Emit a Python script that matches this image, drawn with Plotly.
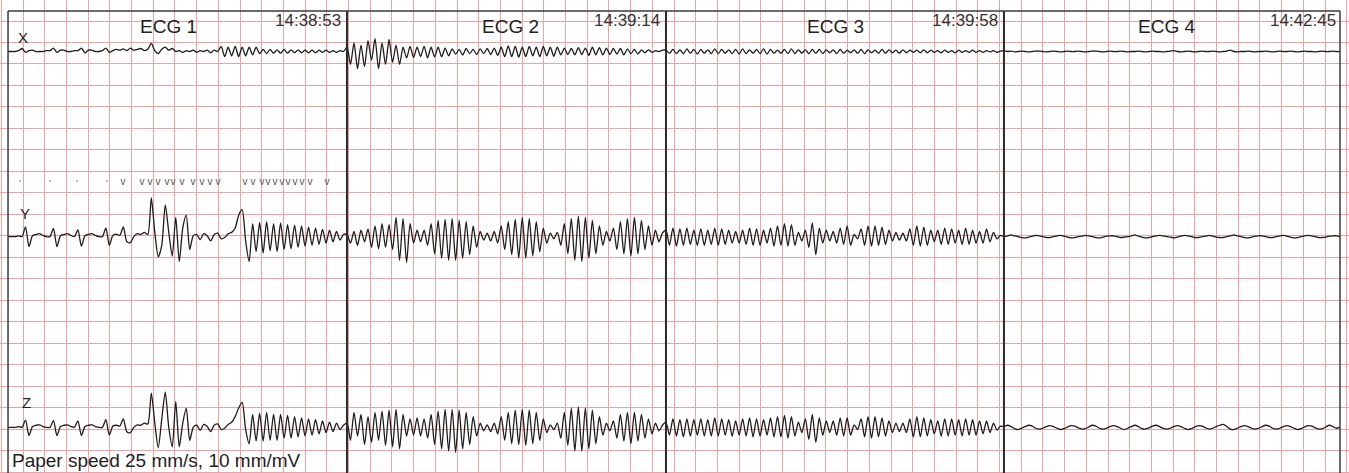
import numpy as np
import plotly.graph_objects as go

# ---------------- data (values in mV) ----------------
segment_names = ["ECG 1", "ECG 2", "ECG 3", "ECG 4"]
segment_times = ["14:38:53", "14:39:14", "14:39:58", "14:42:45"]
segment_bounds_s = [0.062, 3.186, 6.126, 9.241, 12.338]   # strip time (s)
lead_names = ["X", "Y", "Z"]

x_ecg1 = [0, 0, 0, 0.02, 0.07, -0.02, 0.02, 0.03, 0, 0, 0, 0.02, 0.02, 0.08, -0.02, 0.03, 0.03, 0, 0, 0.02,
          0.02, 0.08, -0.03, 0.03, 0.03, 0, 0, 0.02, 0.08, -0.02, 0.02, 0.05, 0.03, 0.06, 0.02, 0.08, 0.03, 0.05, 0.07, 0.02,
          0.05, 0.19, 0.02, -0.05, 0.05, 0.1, 0.03, 0.07, 0.0, 0.02, -0.02, 0.02, 0.0, 0.03, -0.02, 0.02, 0.0, 0.03, -0.03, 0.03,
          0.0, 0.12, -0.12, 0.1, -0.1, 0.12, -0.12, 0.1, -0.1, 0.1, -0.08, 0.1, -0.05, 0.05, -0.05, 0.05, -0.04, 0.04, -0.04, 0.05,
          -0.04, 0.04, -0.03, 0.04, -0.03, 0.03, -0.03, 0.03, -0.03, 0.03, -0.02, 0.03, -0.02, 0.02, -0.02, 0.02, 0.0]
x_ecg2 = [0.1, -0.3, 0.2, -0.4, 0.15, -0.35, 0.25, -0.2, 0.3, -0.4, 0.2, -0.3, 0.28, -0.25, 0.15, -0.3,
          0.1, -0.15, 0.12, -0.14, 0.1, -0.12, 0.12, -0.15, 0.1, -0.13, 0.1, -0.12, 0.08, -0.1,
          0.06, -0.06, 0.05, -0.08, 0.07, -0.05, 0.05, -0.07, 0.06, -0.05, 0.07, -0.07, 0.08, -0.09,
          0.1, -0.12, 0.13, -0.12, 0.12, -0.13, 0.1, -0.12, 0.12, -0.1, 0.1, -0.12, 0.12, -0.1, 0.1, -0.11, 0.1, -0.08, 0.08, -0.07,
          0.07, -0.08, 0.09, -0.07, 0.08, -0.09, 0.1, -0.08, 0.09, -0.08, 0.08, -0.07, 0.07, -0.06, 0.07, -0.08, 0.06, -0.05, 0.05,
          -0.06, 0.04, -0.03, 0.04, -0.02, 0.02, 0.0, 0.03]
x_ecg3 = [0.03, -0.04, 0.05, -0.05, 0.04, -0.05, 0.06, -0.04, 0.05, -0.06, 0.05, -0.04, 0.04, -0.05, 0.06, -0.05, 0.05, -0.04, 0.04, -0.05,
          0.05, -0.06, 0.06, -0.05, 0.04, -0.04, 0.05, -0.05, 0.06, -0.06, 0.05, -0.04, 0.03, -0.04, 0.05, -0.05, 0.06, -0.05, 0.04, -0.04,
          0.04, -0.05, 0.05, -0.04, 0.05, -0.05, 0.04, -0.03, 0.04, -0.05, 0.05, -0.04, 0.03, -0.03, 0.04, -0.04, 0.05, -0.05, 0.04, -0.03,
          0.03, -0.04, 0.05, -0.04, 0.04, -0.03, 0.03, -0.04, 0.04, -0.03, 0.03, -0.02, 0.03, -0.03, 0.04, -0.03, 0.03, -0.02, 0.02, -0.03,
          0.03, -0.02, 0.02, -0.03, 0.03, -0.02, 0.02, -0.02, 0.03, -0.02, 0.02, -0.02, 0.02, -0.01, 0.02, -0.02, 0.01]
x_ecg4 = [0.02, 0.0, 0.01, -0.01, 0.0, 0.01, 0.0, -0.01, 0.0, 0.01, 0.01, 0.0, -0.01, 0.0, 0.01, 0.0, -0.01, 0.0, 0.01, 0.0,
          0.0, 0.01, 0.0, -0.01, 0.0, 0.01, 0.01, 0.0, -0.01, 0.0, 0.01, 0.0, 0.0, 0.01, 0.0, -0.01, 0.0, 0.0, 0.01, 0.0,
          -0.01, 0.0, 0.01, 0.0, 0.0, -0.01, 0.0, 0.01, 0.02, 0.0, -0.01, 0.0, 0.01, 0.0, -0.01, 0.0, 0.01, 0.0, 0.0, 0.01,
          0.0, -0.01, 0.0, 0.01, 0.03, 0.0, -0.01, 0.0, 0.0, 0.01, 0.0, -0.01, 0.0, 0.0, 0.01, 0.0, -0.01, 0.0, 0.01, 0.0,
          0.0, 0.01, 0.0, -0.01, 0.0, 0.01, 0.0, 0.0, -0.01, 0.0, 0.01, 0.0, 0.0, 0.01, 0.0, 0.0]

y_ecg1 = [0, 0, 0, 0.02, 0.0, 0.23, -0.23, 0.02, 0.05, 0.07, 0.03, 0.0, 0.0, 0.19, -0.23, 0.02, 0.05, 0.07, 0.03, 0,
          0.16, -0.22, 0.02, 0.05, 0.07, 0.03, 0.0, 0.0, 0.2, -0.2, 0.03, 0.06, 0.03, 0.23, -0.12, -0.14, 0.0, 0.07, 0.05, 0.1,
          0.05, 0.9, 0.1, -0.47, -0.2, 0.74, 0.1, -0.45, 0.45, -0.58, 0.2, 0.5, -0.3, 0.02, 0.05, -0.07, 0.07, 0.02, -0.1, 0.05,
          0.08, -0.05, -0.02, 0.07, 0.1, 0.2, 0.5, 0.63, -0.1, -0.58, 0.3, -0.35, 0.33, -0.38, 0.35, -0.33, 0.3, -0.35, 0.32, -0.3,
          0.28, -0.28, 0.27, -0.25, 0.25, -0.22, 0.22, -0.2, 0.2, -0.18, 0.17, -0.15, 0.15, -0.12, 0.12, -0.08, 0.05]
y_ecg2 = [0.05, -0.15, 0.12, -0.2, 0.15, -0.12, 0.18,
          -0.25, 0.25, -0.28, 0.3, -0.25, 0.28, -0.3,
          0.45, -0.55, 0.42, -0.6, 0.3,
          -0.15, 0.15, -0.12, 0.15, -0.2,
          0.3, -0.4, 0.38, -0.5, 0.4, -0.55, 0.42, -0.55, 0.38, -0.5, 0.35, -0.42, 0.25, -0.25, 0.12,
          -0.08, 0.08, -0.1, 0.12, -0.15,
          0.25, -0.3, 0.35, -0.42, 0.4, -0.5, 0.45, -0.5, 0.42, -0.45, 0.35, -0.35, 0.2, -0.15,
          0.08, -0.05, 0.1,
          -0.2, 0.3, -0.4, 0.42, -0.55, 0.48, -0.58, 0.45, -0.5, 0.38, -0.4, 0.25, -0.2,
          0.12, -0.1, 0.2,
          -0.3, 0.35, -0.4, 0.42, -0.45, 0.45, -0.4, 0.38, -0.3, 0.25, -0.2,
          0.15, -0.12, 0.08]
y_ecg3 = [0.15, -0.2, 0.2, -0.22, 0.18, -0.2, 0.2, -0.18, 0.15, -0.2, 0.18, -0.2, 0.15, -0.18, 0.2, -0.2, 0.18, -0.18, 0.15, -0.15,
          0.12, -0.15, 0.15, -0.18, 0.2, -0.2, 0.18, -0.2, 0.15, -0.15, 0.2, -0.22, 0.25, -0.2,
          0.3, -0.22, 0.28, -0.2, 0.1, -0.1,
          0.15, -0.25, 0.32, -0.42, 0.2, -0.15,
          0.15, -0.1, 0.12, -0.15, 0.2, -0.18,
          0.25, -0.2, 0.05, -0.05,
          0.18, -0.2, 0.25, -0.22, 0.25, -0.2, 0.22, -0.18, 0.15, -0.1,
          0.1, -0.08, 0.08, -0.1,
          0.18, -0.2, 0.25, -0.22, 0.22, -0.2, 0.15, -0.12,
          0.15, -0.18, 0.2, -0.18, 0.18, -0.15, 0.15, -0.18, 0.2, -0.18, 0.15, -0.15, 0.12, -0.15, 0.18, -0.12, 0.1, -0.05, 0.03]
y_ecg4 = [0.0, 0.02, 0.04, 0.02, 0.0, -0.02, -0.03, -0.01, 0.01, 0.03, 0.02, 0.0, -0.02, -0.02, 0.0, 0.02, 0.03, 0.01, -0.01, -0.03,
          -0.02, 0.0, 0.01, 0.03, 0.02, 0.0, -0.02, -0.03, -0.01, 0.01, 0.02, 0.02, 0.0, -0.02, -0.01, 0.0, 0.02, 0.04, 0.01, -0.01,
          -0.03, -0.02, 0.0, 0.02, 0.03, 0.02, 0.0, -0.01, -0.03, -0.01, 0.01, 0.03, 0.02, 0.0, -0.02, -0.02, 0.0, 0.01, 0.03, 0.01,
          -0.01, -0.02, -0.02, 0.0, 0.02, 0.04, 0.02, 0.0, -0.02, -0.03, -0.01, 0.01, 0.02, 0.02, 0.0, -0.02, -0.02, 0.0, 0.02, 0.03,
          0.01, -0.01, -0.03, -0.02, 0.0, 0.02, 0.03, 0.02, 0.0, -0.02, -0.02, -0.01, 0.01, 0.02, 0.02, 0.0]

z_ecg1 = [0, 0, 0, 0.02, 0.0, 0.17, -0.19, 0.02, 0.05, 0.06, 0.02, 0.0, 0.0, 0.16, -0.19, 0.02, 0.05, 0.06, 0.02, 0,
          0.15, -0.19, 0.02, 0.05, 0.06, 0.02, 0.0, 0.0, 0.18, -0.18, 0.03, 0.05, 0.03, 0.2, -0.1, -0.12, 0.0, 0.06, 0.05, 0.1,
          0.08, 0.8, 0.1, -0.47, 0.2, 0.82, 0.0, -0.45, 0.6, -0.45, 0.1, 0.45, -0.3, 0.0, 0.05, -0.07, 0.07, 0.02, -0.1, 0.05,
          0.08, -0.05, -0.02, 0.07, 0.12, 0.25, 0.45, 0.58, -0.05, -0.38, 0.3, -0.32, 0.33, -0.32, 0.35, -0.3, 0.3, -0.3, 0.3, -0.25,
          0.28, -0.25, 0.25, -0.22, 0.22, -0.2, 0.2, -0.18, 0.18, -0.15, 0.15, -0.12, 0.12, -0.1, 0.1, -0.05, 0.05]
z_ecg2 = [0.1, -0.3, 0.35, -0.2, 0.3, -0.4, 0.25, -0.35, 0.35, -0.3, 0.38, -0.42, 0.4, -0.45, 0.42, -0.5, 0.3,
          -0.2, 0.2, -0.18, 0.22, -0.2, 0.2, -0.25, 0.3,
          -0.4, 0.38, -0.5, 0.42, -0.55, 0.42, -0.58, 0.4, -0.5, 0.35, -0.4, 0.25, -0.2, 0.1,
          -0.08, 0.06, -0.1, 0.1, -0.15,
          0.25, -0.3, 0.35, -0.38, 0.4, -0.4, 0.42, -0.42, 0.4, -0.38, 0.35, -0.3, 0.2, -0.12,
          0.06, -0.05, 0.1,
          -0.25, 0.35, -0.42, 0.45, -0.55, 0.48, -0.55, 0.45, -0.5, 0.4, -0.38, 0.25, -0.18,
          0.1, -0.08, 0.15,
          -0.25, 0.3, -0.32, 0.35, -0.38, 0.35, -0.32, 0.3, -0.25, 0.2, -0.15,
          0.1, -0.08, 0.05]
z_ecg3 = [0.12, -0.18, 0.2, -0.2, 0.18, -0.22, 0.2, -0.2, 0.18, -0.18, 0.2, -0.2, 0.18, -0.2, 0.22, -0.2, 0.2, -0.18, 0.18, -0.2,
          0.15, -0.18, 0.2, -0.2, 0.22, -0.22, 0.2, -0.2, 0.18, -0.18, 0.22, -0.22, 0.25, -0.22,
          0.28, -0.25, 0.25, -0.2, 0.12, -0.12,
          0.2, -0.28, 0.3, -0.35, 0.22, -0.18,
          0.15, -0.12, 0.15, -0.18, 0.22, -0.2,
          0.22, -0.18, 0.06, -0.05,
          0.2, -0.22, 0.25, -0.25, 0.25, -0.22, 0.22, -0.2, 0.15, -0.12,
          0.1, -0.1, 0.1, -0.12,
          0.2, -0.22, 0.25, -0.22, 0.22, -0.2, 0.18, -0.15,
          0.15, -0.2, 0.2, -0.2, 0.2, -0.18, 0.18, -0.2, 0.2, -0.18, 0.18, -0.18, 0.15, -0.15, 0.15, -0.12, 0.1, -0.06, 0.03]
z_ecg4 = [0.02, 0.05, 0.02, -0.03, -0.05, -0.02, 0.02, 0.05, 0.03, -0.02, -0.04, -0.02, 0.02, 0.04, 0.02, -0.02, -0.05, -0.03, 0.01, 0.04,
          0.03, -0.01, -0.04, -0.03, 0.01, 0.05, 0.03, -0.02, -0.04, -0.02, 0.02, 0.04, 0.02, -0.02, -0.05, -0.02, 0.02, 0.05, 0.02, -0.03,
          -0.04, -0.01, 0.03, 0.05, 0.02, -0.02, -0.04, -0.02, 0.02, 0.04, 0.02, -0.02, -0.05, -0.03, 0.01, 0.04, 0.03, -0.01, -0.04, -0.02,
          0.02, 0.05, 0.07, 0.02, -0.04, -0.05, -0.02, 0.02, 0.04, 0.02, -0.02, -0.04, -0.02, 0.02, 0.05, 0.03, -0.02, -0.04, -0.02, 0.02,
          0.04, 0.02, -0.02, -0.05, -0.03, 0.01, 0.04, 0.03, -0.01, -0.04, -0.03, 0.01, 0.05, 0.02, -0.02, 0.0]

# beat annotations above lead Y in ECG 1 (strip time, s)
beat_marks_s = [1.122, 1.297, 1.371, 1.444, 1.527, 1.583, 1.666, 1.767, 1.85, 1.924, 1.997,
                2.246, 2.32, 2.403, 2.458, 2.523, 2.587, 2.642, 2.707, 2.771, 2.845, 3.002]
beat_dots_s = [0.172, 0.449, 0.698, 0.974]

# ---------------- layout constants ----------------
W, H = 1349, 473
PX_PER_S = 108.5          # 25 mm/s paper, one big box = 0.2 s
PX_PER_MV = 42.96         # 10 mm/mV, one big box = 0.5 mV
X0_PX = 1.3
Y0_PX = -0.48
GRID_DT_S = 0.2
GRID_DV_MV = 0.5
lead_offsets_mv = {"X": -1.21, "Y": -5.52, "Z": -9.96}
leads = {"X": [x_ecg1, x_ecg2, x_ecg3, x_ecg4],
         "Y": [y_ecg1, y_ecg2, y_ecg3, y_ecg4],
         "Z": [z_ecg1, z_ecg2, z_ecg3, z_ecg4]}


def px_to_t(px):
    return (px - X0_PX) / PX_PER_S


def t_to_px(t):
    return X0_PX + t * PX_PER_S


def py_to_mv(py):
    return -(py - Y0_PX) / PX_PER_MV


def mv_to_py(v):
    return Y0_PX - v * PX_PER_MV


def paper_x(px):
    return px / W


def paper_y(py):
    return 1 - py / H


fig = go.Figure()

for name in lead_names:
    ts, vs = [], []
    for k, seg in enumerate(leads[name]):
        a, b = segment_bounds_s[k], segment_bounds_s[k + 1]
        t = np.linspace(a, b, len(seg), endpoint=(k == 3))
        ts.extend(t.tolist())
        vs.extend((np.array(seg) + lead_offsets_mv[name]).tolist())
    fig.add_trace(go.Scatter(x=ts, y=vs, mode="lines",
                             line=dict(color="#1c1c1c", width=1.3, shape="spline", smoothing=0.7),
                             hoverinfo="skip", showlegend=False))

mark_y = py_to_mv(182)
fig.add_trace(go.Scatter(x=beat_marks_s, y=[mark_y] * len(beat_marks_s), mode="text",
                         text=["v"] * len(beat_marks_s),
                         textfont=dict(family="Liberation Sans", size=10, color="#555555"),
                         hoverinfo="skip", showlegend=False))
fig.add_trace(go.Scatter(x=beat_dots_s, y=[py_to_mv(181)] * len(beat_dots_s), mode="markers",
                         marker=dict(size=2, color="#aaaaaa"), hoverinfo="skip", showlegend=False))

shapes = []
# ECG paper grid, snapped to whole pixels so every line is drawn crisp
grid_col = "#f0a2a2"
t_lo, t_hi = px_to_t(0), px_to_t(W)
v_lo, v_hi = py_to_mv(H), py_to_mv(0)
k = int(np.ceil(t_lo / GRID_DT_S))
while k * GRID_DT_S <= t_hi:
    px = np.floor(t_to_px(k * GRID_DT_S)) + 0.5
    tx = px_to_t(px)
    shapes.append(dict(type="line", x0=tx, x1=tx, y0=v_lo, y1=v_hi,
                       line=dict(color=grid_col, width=1), layer="below"))
    k += 1
k = int(np.floor(v_hi / GRID_DV_MV))
while k * GRID_DV_MV >= v_lo:
    py = np.floor(mv_to_py(k * GRID_DV_MV)) + 0.5
    vy = py_to_mv(py)
    shapes.append(dict(type="line", x0=t_lo, x1=t_hi, y0=vy, y1=vy,
                       line=dict(color=grid_col, width=1), layer="below"))
    k -= 1

top_mv = py_to_mv(11)
bot_mv = py_to_mv(480)
# white label boxes (between grid and traces)
header_boxes_px = [(123, 215), (467, 558), (790, 882), (1120, 1217)]
for (l, r) in header_boxes_px:
    shapes.append(dict(type="rect", xref="paper", yref="paper", x0=paper_x(l), x1=paper_x(r),
                       y0=paper_y(41), y1=paper_y(11), fillcolor="white", line=dict(width=0), layer="between"))
stamp_boxes_px = [(270, 345), (589, 664), (926, 1002), (1263, 1339)]
for (l, r) in stamp_boxes_px:
    shapes.append(dict(type="rect", xref="paper", yref="paper", x0=paper_x(l), x1=paper_x(r),
                       y0=paper_y(28), y1=paper_y(12), fillcolor="rgba(255,255,255,0.75)",
                       line=dict(width=0), layer="between"))
shapes.append(dict(type="rect", xref="paper", yref="paper", x0=paper_x(9), x1=paper_x(345),
                   y0=0, y1=paper_y(447), fillcolor="white", line=dict(width=0), layer="between"))
# frame
frame_col = "#3a3a3a"
shapes.append(dict(type="line", x0=segment_bounds_s[0], x1=segment_bounds_s[0], y0=top_mv, y1=bot_mv,
                   line=dict(color=frame_col, width=1.5), layer="above"))
shapes.append(dict(type="line", x0=segment_bounds_s[-1], x1=segment_bounds_s[-1], y0=top_mv, y1=bot_mv,
                   line=dict(color=frame_col, width=1.5), layer="above"))
shapes.append(dict(type="line", x0=segment_bounds_s[0], x1=segment_bounds_s[-1], y0=top_mv, y1=top_mv,
                   line=dict(color=frame_col, width=1.5), layer="above"))
for b in segment_bounds_s[1:-1]:
    shapes.append(dict(type="line", x0=b, x1=b, y0=top_mv, y1=bot_mv,
                       line=dict(color="#2a2a2a", width=2), layer="above"))

ann = []
header_x_px = [168, 511, 836, 1166]
stamp_right_px = [343, 662, 1000, 1338]
for k in range(4):
    ann.append(dict(x=paper_x(header_x_px[k]), y=paper_y(27), xref="paper", yref="paper",
                    text=segment_names[k], showarrow=False, xanchor="center", yanchor="middle",
                    font=dict(family="Liberation Sans", size=19, color="#222222")))
    ann.append(dict(x=paper_x(stamp_right_px[k]), y=paper_y(20), xref="paper", yref="paper",
                    text=segment_times[k], showarrow=False, xanchor="right", yanchor="middle",
                    font=dict(family="Liberation Sans", size=17, color="#333333")))
lead_label_px = {"X": (23, 37), "Y": (25, 213), "Z": (26, 402)}
for name in lead_names:
    lx, ly = lead_label_px[name]
    ann.append(dict(x=paper_x(lx), y=paper_y(ly), xref="paper", yref="paper", text=name, showarrow=False,
                    xanchor="center", yanchor="middle",
                    font=dict(family="Liberation Sans", size=15, color="#222222")))
ann.append(dict(x=paper_x(10), y=paper_y(460), xref="paper", yref="paper",
                text="Paper speed 25 mm/s, 10 mm/mV", showarrow=False, xanchor="left", yanchor="middle",
                font=dict(family="Liberation Sans", size=19, color="#222222")))

fig.update_layout(
    template="none",
    width=W, height=H, margin=dict(l=0, r=0, t=0, b=0),
    paper_bgcolor="white", plot_bgcolor="white",
    xaxis=dict(range=[t_lo, t_hi], showgrid=False, showticklabels=False, zeroline=False, ticks="",
               showline=False),
    yaxis=dict(range=[v_lo, v_hi], showgrid=False, showticklabels=False, zeroline=False, ticks="",
               showline=False),
    shapes=shapes, annotations=ann,
)

fig.write_html("out.html", config={"displayModeBar": False, "staticPlot": True},
               post_script="document.body.style.margin='0';document.body.style.overflow='hidden';")
